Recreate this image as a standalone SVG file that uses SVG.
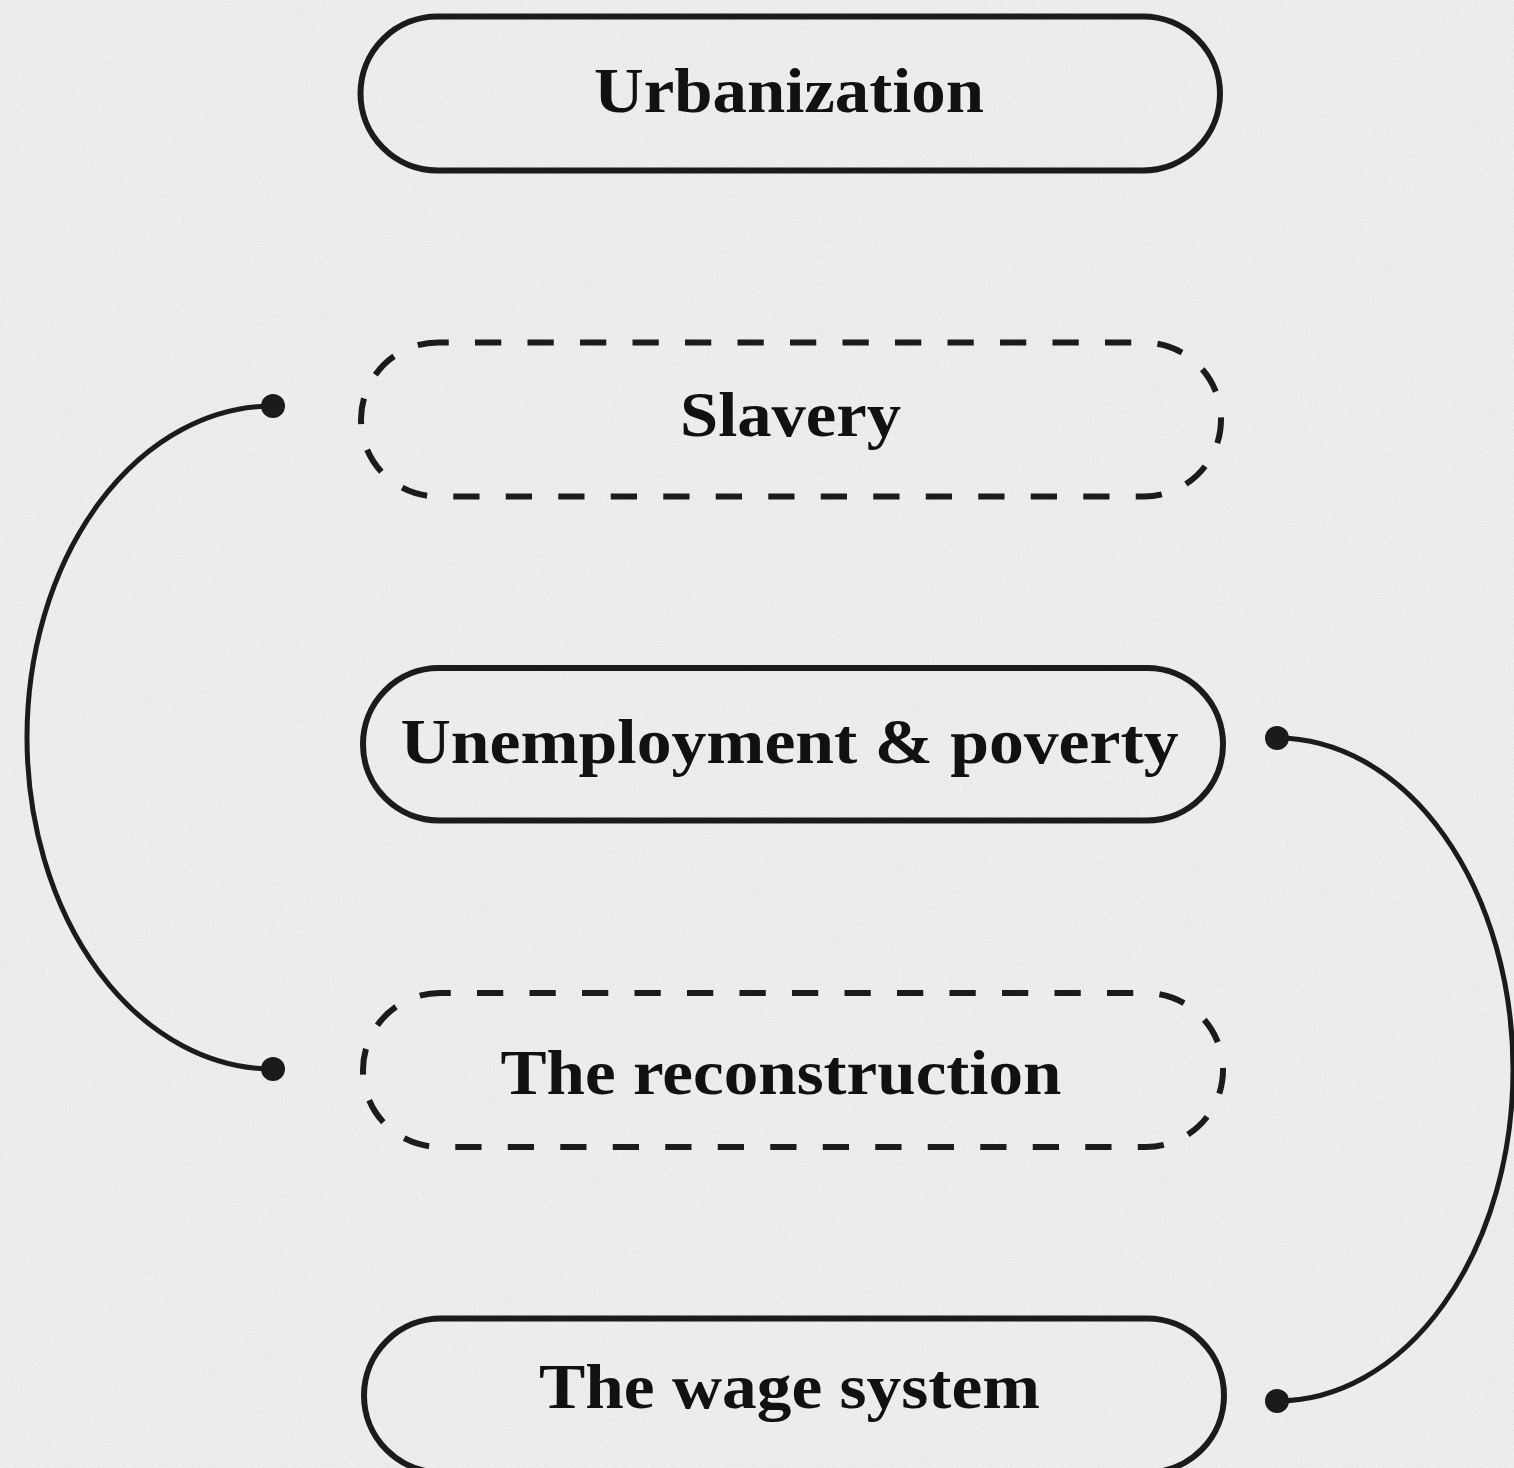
<svg xmlns="http://www.w3.org/2000/svg" width="1514" height="1468" viewBox="0 0 1514 1468">
  <defs>
    <filter id="paper" x="0" y="0" width="100%" height="100%">
      <feTurbulence type="fractalNoise" baseFrequency="0.9" numOctaves="2" seed="4" result="n"/>
      <feColorMatrix type="matrix" values="0 0 0 0 0  0 0 0 0 0  0 0 0 0 0  0 0 0 -0.9 0.55" />
    </filter>
    <marker id="dot" viewBox="-13 -13 26 26" markerWidth="26" markerHeight="26" markerUnits="userSpaceOnUse" refX="0" refY="0" orient="auto">
      <circle cx="0" cy="0" r="12" fill="#1b1b1b"/>
    </marker>
  </defs>
  <style>
    .node rect { fill: none; stroke: #1b1b1b; stroke-width: 6; }
    .node.dashed rect { stroke-dasharray: 26.25 26.25; stroke-dashoffset: 15.5; }
    .node text { font-family: "Liberation Serif", "Times New Roman", serif; font-weight: bold; font-size: 64px; fill: #111; text-anchor: middle; }
    .conn path { fill: none; stroke: #1b1b1b; stroke-width: 5; marker-start: url(#dot); marker-end: url(#dot); }
  </style>
  <rect x="0" y="0" width="1514" height="1468" fill="#efefef"/>
  <rect x="0" y="0" width="1514" height="1468" filter="url(#paper)" opacity="0.12"/>

  <g id="node-urbanization" class="node">
    <rect x="360.5" y="16.5" width="859.5" height="154" rx="77" ry="77"/>
    <text x="789" y="112" textLength="390" lengthAdjust="spacingAndGlyphs">Urbanization</text>
  </g>
  <g id="node-slavery" class="node dashed">
    <rect x="361" y="342.5" width="860" height="154" rx="77" ry="77"/>
    <text x="790.5" y="436" textLength="221" lengthAdjust="spacingAndGlyphs">Slavery</text>
  </g>
  <g id="node-unemployment" class="node">
    <rect x="363" y="668" width="860" height="152.5" rx="76" ry="76"/>
    <text x="789.5" y="763" textLength="778" lengthAdjust="spacingAndGlyphs">Unemployment &amp; poverty</text>
  </g>
  <g id="node-reconstruction" class="node dashed">
    <rect x="363" y="993" width="860" height="154" rx="77" ry="77"/>
    <text x="781" y="1094" textLength="561" lengthAdjust="spacingAndGlyphs">The reconstruction</text>
  </g>
  <g id="node-wage" class="node">
    <rect x="364" y="1318.5" width="860" height="154" rx="77" ry="77"/>
    <text x="789.5" y="1408" textLength="501" lengthAdjust="spacingAndGlyphs">The wage system</text>
  </g>

  <g id="connectors" class="conn">
    <path d="M273,406 A246,331.5 0 0 0 273,1069"/>
    <path d="M1277,738 A236,331.5 0 0 1 1277,1401"/>
  </g>
</svg>
